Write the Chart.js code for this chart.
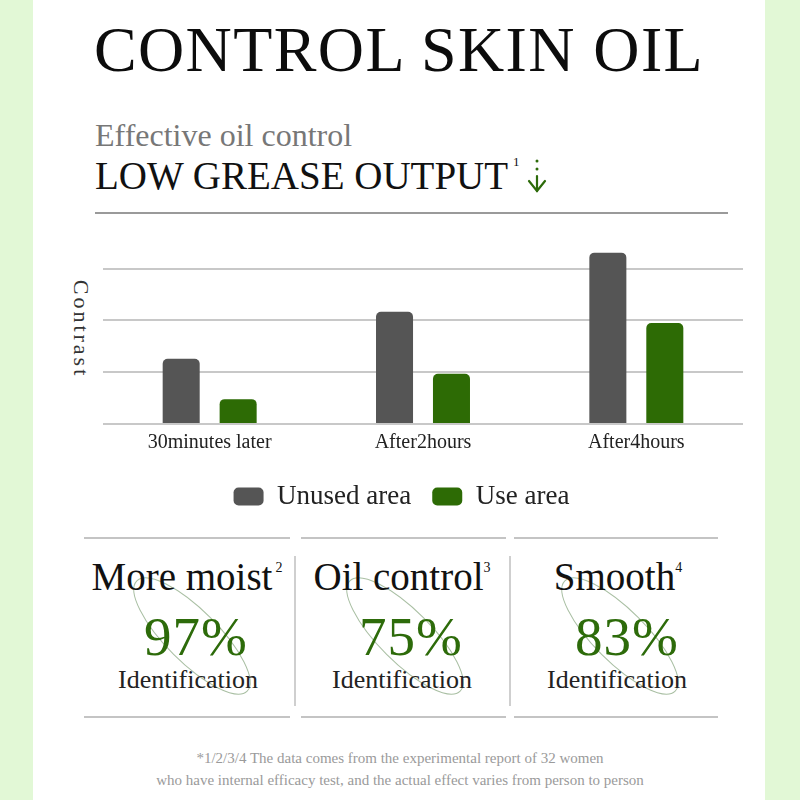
<!DOCTYPE html>
<html>
<head>
<meta charset="utf-8">
<script src="https://cdn.jsdelivr.net/npm/chart.js"></script>
<style>
  html, body { margin: 0; padding: 0; }
  body { width: 800px; height: 800px; background: #e2f8d6; position: relative; overflow: hidden;
         font-family: "Liberation Serif", serif; }
  #panel { position: absolute; left: 33px; top: 0; width: 732px; height: 800px; background: #ffffff; }
  .t { position: absolute; white-space: nowrap; line-height: 1; }
  .c { text-align: center; }
  .rule { position: absolute; height: 2px; background: #c4c4c4; }
  .vrule { position: absolute; width: 2px; background: #cfcfcf; }
  #chartBox { position: absolute; left: 60px; top: 235px; }
</style>
</head>
<body>
<div id="panel"></div>

<!-- encabezado -->
<div class="t c" style="left:0; width:798px; top:18px; font-size:64px; letter-spacing:1.4px; color:#0c0c0c;">CONTROL SKIN OIL</div>
<div class="t" style="left:95px; top:119px; font-size:32px; color:#777;">Effective oil control</div>
<div class="t" style="left:95px; top:156px; font-size:39px; color:#111;">LOW GREASE OUTPUT</div>
<div class="t" style="left:513px; top:155px; font-size:13px; color:#111;">1</div>
<svg style="position:absolute; left:0; top:0;" width="800" height="800">
  <g stroke="#2d6b0a" stroke-width="2.2" fill="none" stroke-linecap="round">
    <line x1="537" y1="176" x2="537" y2="191"/>
    <polyline points="529,181 537,191 545,181"/>
  </g>
  <circle cx="537" cy="161" r="1.5" fill="#2d6b0a"/>
  <circle cx="537" cy="169" r="1.5" fill="#2d6b0a"/>
  <!-- elipses decorativas -->
  <g stroke="#a9bfa3" stroke-width="1" fill="none">
    <ellipse cx="192" cy="636" rx="78" ry="26" transform="rotate(45 192 636)"/>
    <ellipse cx="405" cy="636" rx="78" ry="26" transform="rotate(45 405 636)"/>
    <ellipse cx="620" cy="636" rx="78" ry="26" transform="rotate(45 620 636)"/>
  </g>
</svg>
<div class="rule" style="left:95px; top:212px; width:633px; background:#9a9a9a;"></div>

<!-- etiqueta del eje y -->
<div class="t" style="left:31px; top:318px; width:100px; text-align:center; font-size:22px; letter-spacing:3px; color:#333; transform:rotate(90deg);">Contrast</div>

<div id="chartBox"><canvas id="grafica" width="700" height="285"></canvas></div>

<!-- paneles inferiores -->
<div class="rule" style="left:84px; top:537px; width:206px;"></div>
<div class="rule" style="left:301px; top:537px; width:205px;"></div>
<div class="rule" style="left:514px; top:537px; width:204px;"></div>
<div class="rule" style="left:84px; top:716px; width:206px;"></div>
<div class="rule" style="left:301px; top:716px; width:205px;"></div>
<div class="rule" style="left:514px; top:716px; width:204px;"></div>
<div class="vrule" style="left:294px; top:556px; height:150px;"></div>
<div class="vrule" style="left:509px; top:556px; height:150px;"></div>

<div class="t c" style="left:87px; width:200px; top:557px; font-size:39px; color:#111;">More moist<sup style="font-size:14px; vertical-align:18px; margin-left:3px;">2</sup></div>
<div class="t c" style="left:302px; width:200px; top:557px; font-size:39px; color:#111;">Oil control<sup style="font-size:14px; vertical-align:18px;">3</sup></div>
<div class="t c" style="left:518px; width:200px; top:557px; font-size:39px; color:#111;">Smooth<sup style="font-size:14px; vertical-align:18px;">4</sup></div>

<div class="t c" style="left:96px; width:200px; top:609px; font-size:55px; letter-spacing:1px; color:#2d6b0a;">97%</div>
<div class="t c" style="left:311px; width:200px; top:609px; font-size:55px; letter-spacing:1px; color:#2d6b0a;">75%</div>
<div class="t c" style="left:527px; width:200px; top:609px; font-size:55px; letter-spacing:1px; color:#2d6b0a;">83%</div>

<div class="t c" style="left:88px; width:200px; top:667px; font-size:26px; color:#222;">Identification</div>
<div class="t c" style="left:302px; width:200px; top:667px; font-size:26px; color:#222;">Identification</div>
<div class="t c" style="left:517px; width:200px; top:667px; font-size:26px; color:#222;">Identification</div>

<div class="t c" style="left:0; width:800px; top:751px; font-size:15px; color:#9a9a9a;">*1/2/3/4 The data comes from the experimental report of 32 women</div>
<div class="t c" style="left:0; width:800px; top:773px; font-size:15px; color:#9a9a9a;">who have internal efficacy test, and the actual effect varies from person to person</div>

<script>
// Datos del gráfico
const categorias = ["30minutes later", "After2hours", "After4hours"];
const areaSinUso = [1.26, 2.17, 3.31];
const areaConUso = [0.48, 0.97, 1.95];
const nombresSeries = ["Unused area", "Use area"];

const ctx = document.getElementById("grafica").getContext("2d");

const grafica = new Chart(ctx, {
    type: "bar",
    data: {
        labels: categorias,
        datasets: [
            {
                label: nombresSeries[0],
                data: areaSinUso,
                backgroundColor: "#555555",
                borderRadius: 5
            },
            {
                label: nombresSeries[1],
                data: areaConUso,
                backgroundColor: "#2d6b05",
                borderRadius: 5
            }
        ]
    },
    options: {
        responsive: false,
        animation: false,
        categoryPercentage: 0.534,
        barPercentage: 0.65,
        layout: { padding: { left: 0, right: 17, top: 13, bottom: 0 } },
        plugins: {
            tooltip: { enabled: false },
            legend: {
                position: "bottom",
                labels: {
                    font: { family: "Liberation Serif", size: 27 },
                    color: "#222",
                    boxWidth: 30,
                    boxHeight: 18,
                    useBorderRadius: true,
                    borderRadius: 5,
                    padding: 21
                }
            }
        },
        scales: {
            x: {
                grid: { display: false, drawTicks: false },
                border: { display: false },
                ticks: {
                    font: { family: "Liberation Serif", size: 20 },
                    color: "#222",
                    padding: 7
                }
            },
            y: {
                min: 0,
                max: 3.4,
                border: { display: false },
                ticks: { display: false, stepSize: 1 },
                afterFit: function (scale) { scale.width = 43; },
                grid: {
                    drawTicks: false,
                    lineWidth: 2,
                    color: function (c) {
                        // solo las líneas enteras
                        return Number.isInteger(c.tick.value) ? "#c8c8c8" : "rgba(0,0,0,0)";
                    }
                }
            }
        }
    }
});
</script>
</body>
</html>
